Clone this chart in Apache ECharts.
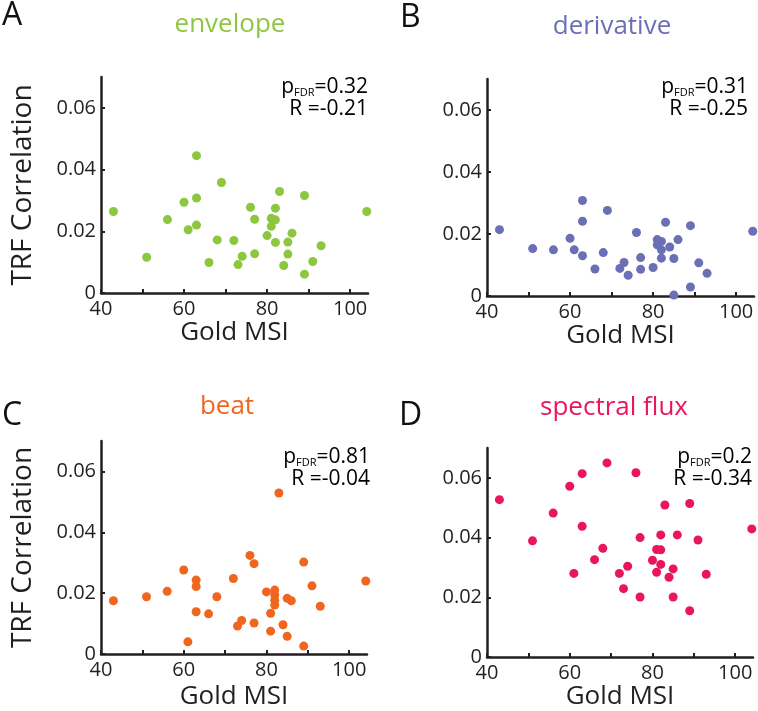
<!DOCTYPE html>
<html><head><meta charset="utf-8">
<script src="https://cdn.jsdelivr.net/npm/echarts@6/dist/echarts.min.js"></script>
<style>html,body{margin:0;padding:0;background:#fff}#c{width:758px;height:711px}</style>
</head><body><div id="c"></div>
<script>
// ---- data ----
const panelLetters = ['A', 'B', 'C', 'D'];
const panelTitles = ['envelope', 'derivative', 'beat', 'spectral flux'];
const pValues = ['0.32', '0.31', '0.81', '0.2'];
const rValues = ['-0.21', '-0.25', '-0.04', '-0.34'];
const xTickValues = [40, 50, 60, 70, 80, 90, 100];
const xLabelValues = [40, 60, 80, 100];
const yTickValues = [0, 0.02, 0.04, 0.06];

const envelopeX = [43,51,56,60,61,63,63,63,66,68,69,72,73,74,76,77,77,80,81,81,82,82,82,83,84,85,85,86,89,89,91,93,104];
const envelopeY = [0.0264,0.0116,0.0238,0.0294,0.0205,0.0445,0.0308,0.0220,0.0099,0.0172,0.0358,0.0170,0.0092,0.0119,0.0278,0.0239,0.0127,0.0186,0.0242,0.0216,0.0275,0.0237,0.0164,0.0329,0.0089,0.0165,0.0126,0.0194,0.0316,0.0061,0.0102,0.0153,0.0264];

const derivativeX = [43,51,56,60,61,63,63,63,66,68,69,72,73,74,76,77,77,80,81,81,82,82,82,83,84,85,85,86,89,89,91,93,104];
const derivativeY = [0.0214,0.0153,0.0149,0.0186,0.0149,0.0308,0.0241,0.0130,0.0087,0.0140,0.0276,0.0089,0.0108,0.0067,0.0205,0.0124,0.0086,0.0092,0.0182,0.0165,0.0176,0.0149,0.0122,0.0238,0.0158,0.0121,0.0003,0.0182,0.0227,0.0029,0.0107,0.0073,0.0209];

const beatX = [43,51,56,60,61,63,63,63,66,68,72,73,74,76,77,77,80,81,81,82,82,82,82,83,84,85,85,86,89,89,91,93,104];
const beatY = [0.0175,0.0188,0.0206,0.0276,0.0040,0.0243,0.0222,0.0139,0.0132,0.0188,0.0248,0.0092,0.0110,0.0324,0.0297,0.0102,0.0204,0.0134,0.0075,0.0210,0.0194,0.0177,0.0161,0.0529,0.0096,0.0183,0.0058,0.0175,0.0302,0.0026,0.0224,0.0157,0.0240];

const fluxX = [43,51,56,60,61,63,63,66,68,69,72,73,74,76,77,77,80,81,81,82,82,82,83,84,85,85,86,89,89,91,93,104];
const fluxY = [0.0527,0.0389,0.0482,0.0572,0.0280,0.0614,0.0438,0.0326,0.0364,0.0650,0.0280,0.0229,0.0304,0.0617,0.0400,0.0201,0.0324,0.0360,0.0284,0.0409,0.0359,0.0310,0.0509,0.0267,0.0295,0.0201,0.0409,0.0514,0.0155,0.0392,0.0277,0.0429];

const seriesX = [envelopeX, derivativeX, beatX, fluxX];
const seriesY = [envelopeY, derivativeY, beatY, fluxY];

// ---- layout / style ----
const colors = ['#8dc63f', '#6b6fb6', '#f0661f', '#e9155f'];
const grids = [
  {left: 101, top: 77, width: 267, height: 216},
  {left: 487, top: 79, width: 267, height: 217},
  {left: 101, top: 441, width: 266, height: 218},
  {left: 487, top: 448, width: 266, height: 216}
];
const nameGaps = [26, 26, 30, 27];
const FONT = 'Open Sans';
const AXC = '#231f20';

const chart = echarts.init(document.getElementById('c'));
const option = {
  animation: false,
  backgroundColor: '#fff',
  grid: grids,
  xAxis: grids.map((g, i) => ({
    gridIndex: i, type: 'value', min: 40, max: 104.3,
    name: 'Gold MSI', nameLocation: 'middle', nameGap: nameGaps[i],
    nameTextStyle: {fontFamily: FONT, fontSize: 26, color: AXC},
    axisLine: {show: true, onZero: false, lineStyle: {color: AXC, width: 2.5}},
    axisTick: {show: true, inside: true, length: 4, customValues: xTickValues, lineStyle: {color: AXC, width: 2}},
    axisLabel: {customValues: xLabelValues, margin: 6, fontFamily: FONT, fontSize: 20, color: AXC},
    splitLine: {show: false}
  })),
  yAxis: grids.map((g, i) => ({
    gridIndex: i, type: 'value', min: 0, max: 0.07,
    name: (i % 2 === 0) ? 'TRF Correlation' : '', nameLocation: 'middle', nameGap: 64,
    nameTextStyle: {fontFamily: FONT, fontSize: 28, color: AXC},
    axisLine: {show: true, onZero: false, lineStyle: {color: AXC, width: 2.5}},
    axisTick: {show: true, inside: true, length: 4, customValues: yTickValues, lineStyle: {color: AXC, width: 2}},
    axisLabel: {customValues: yTickValues, margin: 5, fontFamily: FONT, fontSize: 20, color: AXC,
      formatter: v => (v === 0 ? '0' : v.toFixed(2))},
    splitLine: {show: false}
  })),
  series: seriesX.map((xs, i) => ({
    type: 'scatter', xAxisIndex: i, yAxisIndex: i,
    symbol: 'circle', symbolSize: 9, clip: false,
    itemStyle: {color: colors[i], opacity: 1},
    data: xs.map((x, k) => [x, seriesY[i][k]])
  })),
  graphic: []
};

const letterPos = [[2, 0], [400, 2], [2, 400], [399, 400]];
const titlePos = [[230, 25], [612, 27], [227, 407], [614, 408]];
const annoPos = [[368, 76], [748, 76], [370, 446], [752, 446]];
for (let i = 0; i < 4; i++) {
  option.graphic.push({
    type: 'text', left: letterPos[i][0], top: letterPos[i][1],
    style: {text: panelLetters[i], font: '32px "' + FONT + '"', fill: '#111'}
  });
  option.graphic.push({
    type: 'text', x: titlePos[i][0], y: titlePos[i][1],
    style: {text: panelTitles[i], font: '26px "' + FONT + '"', fill: colors[i], align: 'center', verticalAlign: 'middle'}
  });
  option.graphic.push({
    type: 'text', x: annoPos[i][0], y: annoPos[i][1],
    style: {
      text: '{p|p}{s|FDR}{p|=' + pValues[i] + '}\n{p|R =' + rValues[i] + '}',
      align: 'right', verticalAlign: 'top',
      rich: {
        p: {fontFamily: FONT, fontSize: 21, color: AXC, lineHeight: 22},
        s: {fontFamily: FONT, fontSize: 11, color: AXC, lineHeight: 22, verticalAlign: 'bottom'}
      }
    }
  });
}
chart.setOption(option);
</script></body></html>
